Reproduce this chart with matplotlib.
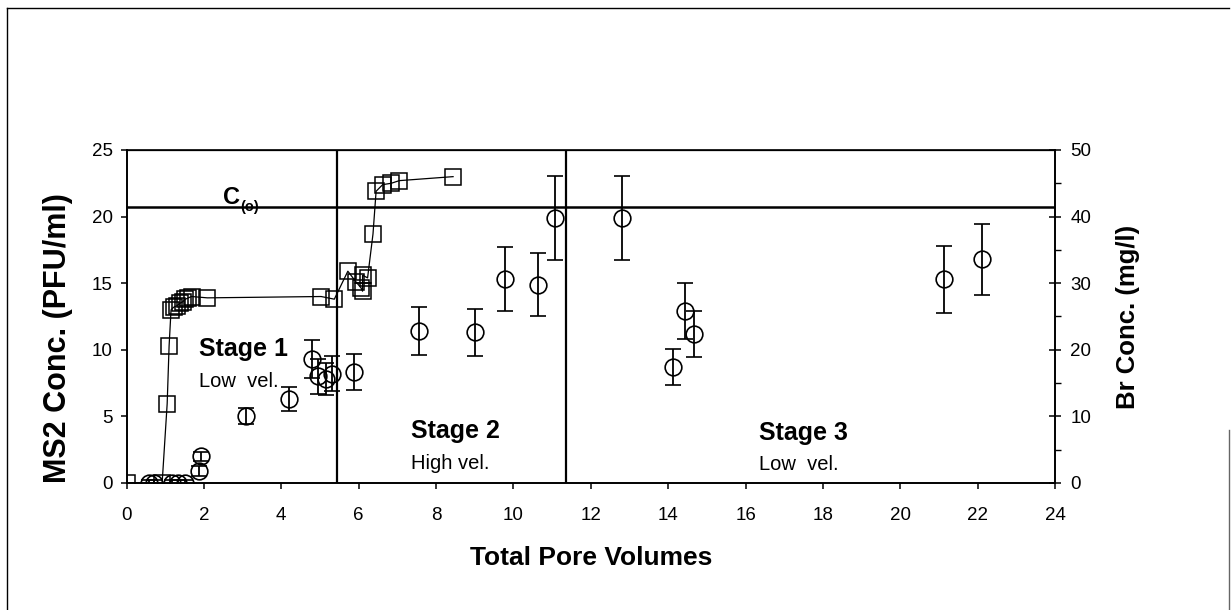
import numpy as np
import matplotlib.pyplot as plt
from matplotlib.lines import Line2D

plt.rcParams['font.family'] = ['Liberation Sans', 'DejaVu Sans']

# bromide tracer (right axis, mg/l)
br_pv = [0.00, 0.92, 1.05, 1.10, 1.15, 1.22, 1.30, 1.38, 1.45, 1.52, 1.60, 1.68,
         2.09, 5.03, 5.37, 5.72, 5.93, 6.06, 6.10, 6.10, 6.23, 6.37, 6.45, 6.62,
         6.84, 7.05, 8.44]
br_conc = [0.0, 0.0, 11.9, 20.6, 26.0, 26.4, 26.6, 27.0, 27.2, 27.6, 27.8, 28.0,
           27.8, 28.0, 27.6, 31.8, 30.2, 29.3, 28.8, 31.2, 30.8, 37.4, 43.8, 44.8,
           45.0, 45.4, 46.0]

# MS2 phage (left axis, PFU/ml) with error bars
ms2_pv = [0.58, 0.70, 1.18, 1.33, 1.50, 1.88, 1.92, 3.08, 4.20, 4.80, 4.95, 5.15,
          5.30, 5.89, 7.55, 9.00, 9.79, 10.64, 11.07, 12.80, 14.12, 14.44, 14.67,
          21.13, 22.12]
ms2_conc = [0.0, 0.0, 0.0, 0.0, 0.0, 0.9, 2.0, 5.0, 6.3, 9.3, 8.0, 7.8,
            8.2, 8.3, 11.4, 11.3, 15.35, 14.9, 19.9, 19.9, 8.7, 12.9, 11.2,
            15.3, 16.8]
ms2_err = [0.25, 0.25, 0.25, 0.25, 0.25, 0.35, 0.35, 0.6, 0.9, 1.4, 1.3, 1.2,
           1.3, 1.35, 1.8, 1.8, 2.4, 2.4, 3.15, 3.15, 1.35, 2.1, 1.75,
           2.5, 2.65]

c0 = 20.75
stage_bounds = [5.45, 11.35]

fig = plt.figure(figsize=(12.31, 6.10), dpi=100)
ax = fig.add_axes([0.1028, 0.2082, 0.7543, 0.5459])
ax2 = ax.twinx()

ax2.plot(br_pv, br_conc, color='black', lw=0.9, marker='s', ms=11,
         mfc='none', mec='black', mew=1.1, zorder=3)

ax.errorbar(ms2_pv, ms2_conc, yerr=ms2_err, fmt='o', ms=12, mfc='none',
            mec='black', mew=1.2, ecolor='black', elinewidth=1.3,
            capsize=6, capthick=1.3, zorder=4)

ax.axhline(c0, color='black', lw=1.8)
for xb in stage_bounds:
    ax.axvline(xb, color='black', lw=1.6)

ax.text(2.50, 20.95, 'C', fontsize=17, fontweight='bold', va='baseline')
ax.text(2.93, 20.45, '(o)', fontsize=10.5, fontweight='bold', va='baseline')

stages = [('Stage 1', 'Low  vel.', 1.87, 9.55, 7.2),
          ('Stage 2', 'High vel.', 7.36, 3.36, 1.04),
          ('Stage 3', 'Low  vel.', 16.35, 3.26, 0.97)]
for name, vel, sx, sy, vy in stages:
    ax.text(sx, sy, name, fontsize=18, fontweight='bold', va='baseline')
    ax.text(sx, vy, vel, fontsize=14.5, va='baseline')

ax.set_xlim(0, 24)
ax.set_ylim(0, 25)
ax2.set_ylim(0, 50)
ax.set_xticks(np.arange(0, 25, 2))
ax.set_yticks(np.arange(0, 26, 5))
ax2.set_yticks(np.arange(0, 51, 10))
ax2.set_yticks(np.arange(5, 50, 10), minor=True)

ax.tick_params(axis='x', direction='out', length=4, width=1.1, pad=13, labelsize=13.5)
ax.tick_params(axis='y', direction='out', length=4, width=1.1, pad=6, labelsize=13.5)
ax2.tick_params(axis='y', which='major', direction='inout', length=8, width=1.1, pad=7, labelsize=13.5)
ax2.tick_params(axis='y', which='minor', direction='out', length=4, width=1.0)

for a in (ax, ax2):
    for sp in a.spines.values():
        sp.set_linewidth(1.2)
ax.spines['top'].set_linewidth(0.9)

ax.set_xlabel('Total Pore Volumes', fontsize=19, fontweight='bold', labelpad=16)
ax.set_ylabel('MS2 Conc. (PFU/ml)', fontsize=22, fontweight='bold')
ax.yaxis.set_label_coords(-0.058, 0.435)
ax2.set_ylabel('Br Conc. (mg/l)', fontsize=18.5, fontweight='bold', labelpad=18)

# page frame
fig.add_artist(Line2D([0.0057, 0.0057], [0.0, 0.987], color='black', lw=1.0, transform=fig.transFigure))
fig.add_artist(Line2D([0.0057, 0.998], [0.987, 0.987], color='black', lw=1.0, transform=fig.transFigure))
fig.add_artist(Line2D([0.9985, 0.9985], [0.0, 0.295], color='0.4', lw=1.0, transform=fig.transFigure))

fig.savefig('out.png', dpi=100)
